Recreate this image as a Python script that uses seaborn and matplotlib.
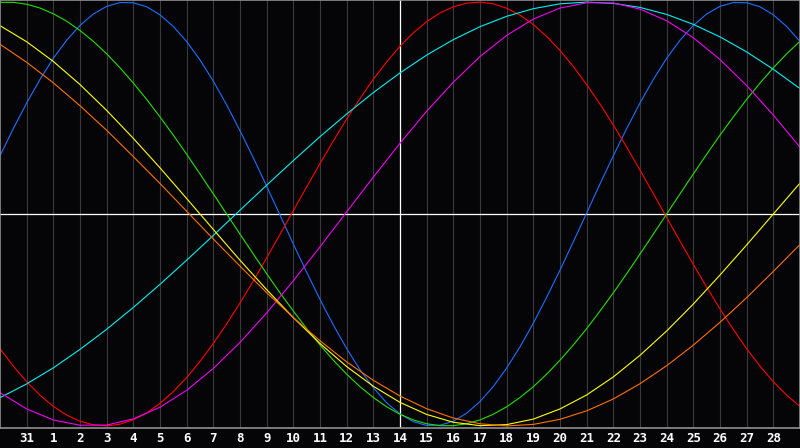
import pandas as pd
import matplotlib
matplotlib.use("Agg")
import matplotlib.pyplot as plt
import seaborn as sns

# day index 0..30 across the chart (index 0 = Jan 30, index 30 = Mar 1)
day_index = list(range(31))
half_day_index = [i / 2 for i in range(61)]
tick_pos = list(range(1, 30))
tick_labels = ["31"] + [str(d) for d in range(1, 29)]

# fast cycles read at half-day steps
physical = [0.275, 0.403, 0.524, 0.635, 0.735, 0.820, 0.890, 0.944, 0.980, 0.998,
            0.997, 0.978, 0.940, 0.885, 0.814, 0.727, 0.627, 0.515, 0.393, 0.265,
            0.131, -0.005, -0.142, -0.275, -0.403, -0.524, -0.635, -0.735, -0.820, -0.891,
            -0.944, -0.980, -0.998, -0.997, -0.978, -0.940, -0.885, -0.814, -0.727, -0.627,
            -0.515, -0.393, -0.265, -0.131, 0.005, 0.142, 0.275, 0.403, 0.524, 0.635,
            0.735, 0.820, 0.890, 0.944, 0.980, 0.998, 0.997, 0.978, 0.940, 0.885, 0.814]
emotional = [-0.636, -0.718, -0.792, -0.855, -0.908, -0.949, -0.978, -0.995, -1.000, -0.992,
             -0.971, -0.939, -0.894, -0.838, -0.772, -0.696, -0.611, -0.519, -0.420, -0.316,
             -0.207, -0.096, 0.016, 0.128, 0.238, 0.345, 0.448, 0.545, 0.636, 0.718,
             0.792, 0.855, 0.908, 0.949, 0.978, 0.995, 1.000, 0.992, 0.971, 0.939,
             0.894, 0.838, 0.772, 0.696, 0.611, 0.519, 0.420, 0.316, 0.207, 0.096,
             -0.016, -0.128, -0.238, -0.345, -0.448, -0.545, -0.636, -0.718, -0.792, -0.855, -0.908]
intellectual = [0.999, 0.999, 0.990, 0.972, 0.945, 0.910, 0.866, 0.815, 0.756, 0.690,
                0.618, 0.541, 0.458, 0.372, 0.282, 0.189, 0.095, 0.000, -0.095, -0.189,
                -0.282, -0.372, -0.458, -0.541, -0.618, -0.690, -0.756, -0.815, -0.866, -0.910,
                -0.945, -0.972, -0.990, -0.999, -0.999, -0.990, -0.972, -0.945, -0.910, -0.866,
                -0.815, -0.756, -0.690, -0.618, -0.541, -0.458, -0.372, -0.282, -0.189, -0.095,
                0.000, 0.095, 0.189, 0.282, 0.372, 0.458, 0.541, 0.618, 0.690, 0.756, 0.815]
# slow cycles read at whole-day steps
spiritual = [-0.867, -0.802, -0.726, -0.639, -0.544, -0.441, -0.332, -0.218, -0.101, 0.018,
             0.136, 0.252, 0.365, 0.472, 0.573, 0.666, 0.750, 0.823, 0.884, 0.933,
             0.969, 0.992, 1.000, 0.994, 0.975, 0.942, 0.895, 0.836, 0.765, 0.683, 0.592]
intuitive = [-0.843, -0.920, -0.972, -0.997, -0.996, -0.967, -0.912, -0.832, -0.729, -0.606,
             -0.467, -0.315, -0.155, 0.010, 0.174, 0.334, 0.485, 0.622, 0.743, 0.843,
             0.920, 0.972, 0.997, 0.996, 0.967, 0.912, 0.832, 0.729, 0.606, 0.467, 0.315]
aesthetic = [0.889, 0.813, 0.720, 0.611, 0.489, 0.357, 0.218, 0.073, -0.073, -0.218,
             -0.357, -0.489, -0.611, -0.720, -0.813, -0.889, -0.946, -0.983, -0.999, -0.994,
             -0.968, -0.920, -0.854, -0.769, -0.667, -0.552, -0.425, -0.288, -0.146, 0.000, 0.146]
awareness = [0.801, 0.716, 0.619, 0.511, 0.395, 0.271, 0.144, 0.013, -0.118, -0.246,
             -0.371, -0.489, -0.598, -0.698, -0.785, -0.859, -0.919, -0.963, -0.990, -1.000,
             -0.993, -0.969, -0.929, -0.873, -0.801, -0.716, -0.619, -0.511, -0.395, -0.271, -0.144]

series = {
    "physical": (half_day_index, physical),
    "emotional": (half_day_index, emotional),
    "intellectual": (half_day_index, intellectual),
    "spiritual": (day_index, spiritual),
    "intuitive": (day_index, intuitive),
    "aesthetic": (day_index, aesthetic),
    "awareness": (day_index, awareness),
}
colors = {
    "physical": "#1e6eff",
    "emotional": "#ff0000",
    "intellectual": "#22e000",
    "spiritual": "#00f0f0",
    "intuitive": "#f000f0",
    "aesthetic": "#ffff00",
    "awareness": "#ff7000",
}

rows = []
for name, (xs, vals) in series.items():
    for d, v in zip(xs, vals):
        rows.append({"day": d, "value": v, "cycle": name})
df = pd.DataFrame(rows)

bg = "#050508"
fig = plt.figure(figsize=(8, 4.48), dpi=100, facecolor=bg)
ax = fig.add_axes([0.0, 20 / 448, 1.0, 428 / 448])
ax.set_facecolor(bg)

for x in tick_pos:
    ax.axvline(x, color="#3a3a3a", lw=0.8, zorder=0)
ax.axvline(15, color="white", lw=0.9, zorder=1)
ax.axhline(0, color="white", lw=0.9, zorder=1)

sns.lineplot(data=df, x="day", y="value", hue="cycle", palette=colors,
             hue_order=list(series.keys()), lw=0.8, legend=False, ax=ax, zorder=2)

ax.set_xlim(0, 30)
ax.set_ylim(-1.01, 1.01)
ax.set_xticks(tick_pos)
ax.set_xticklabels(tick_labels, color="white", fontweight="bold",
                   fontsize=9, family="DejaVu Sans Mono")
ax.tick_params(axis="x", length=0, pad=3)
ax.set_yticks([])
ax.set_xlabel("")
ax.set_ylabel("")
for s in ax.spines.values():
    s.set_color("#909090")
    s.set_linewidth(1.2)

fig.savefig("out.png", dpi=100, facecolor=bg)
